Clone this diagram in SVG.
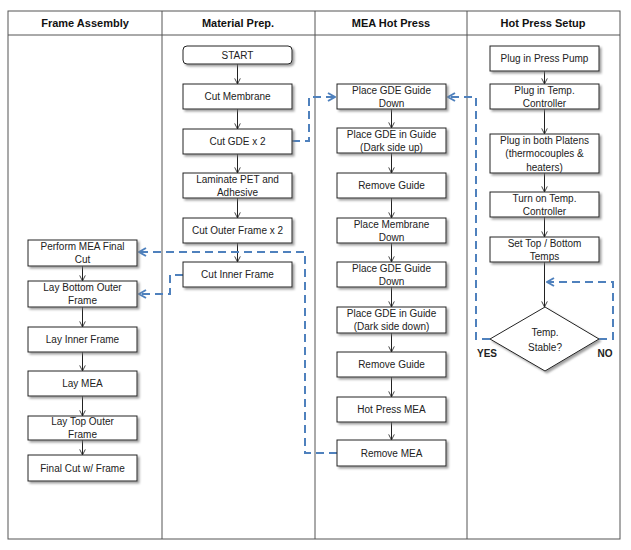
<svg xmlns="http://www.w3.org/2000/svg" width="631" height="550" viewBox="0 0 631 550">
<defs>
<filter id="sh" x="-10%" y="-20%" width="130%" height="160%">
<feDropShadow dx="2" dy="2" stdDeviation="1" flood-color="#777" flood-opacity="0.7"/>
</filter>
<marker id="ah" viewBox="0 0 10 10" refX="9" refY="5" markerWidth="7" markerHeight="7" orient="auto" markerUnits="userSpaceOnUse">
<path d="M1,1 L9,5 L1,9" fill="none" stroke="#222" stroke-width="1.2"/>
</marker>
<marker id="bh" viewBox="0 0 10 10" refX="9" refY="5" markerWidth="10" markerHeight="10" orient="auto" markerUnits="userSpaceOnUse">
<path d="M2,1 L9,5 L2,9" fill="none" stroke="#4F81BD" stroke-width="2"/>
</marker>
</defs>
<style>
.lane{fill:none;stroke:#555;stroke-width:1}
.hd{font-family:"Liberation Sans",Arial,sans-serif;font-size:11px;font-weight:bold;fill:#111;text-anchor:middle}
.bx{fill:#fff;stroke:#222;stroke-width:1;filter:url(#sh)}
.t{font-family:"Liberation Sans",Arial,sans-serif;font-size:10px;fill:#222;text-anchor:middle}
.sl{fill:none;stroke:#222;stroke-width:1;marker-end:url(#ah)}
.da{fill:none;stroke:#4F81BD;stroke-width:2;stroke-dasharray:8,5;marker-end:url(#bh)}
.lb{font-family:"Liberation Sans",Arial,sans-serif;font-size:10px;font-weight:bold;fill:#222;text-anchor:middle}
</style>
<rect x="0" y="0" width="631" height="550" fill="#fff"/>
<g id="lanes">
<rect class="lane" x="8" y="11" width="612" height="528"/>
<line class="lane" x1="8" y1="35" x2="620" y2="35"/>
<line class="lane" x1="162" y1="11" x2="162" y2="539"/>
<line class="lane" x1="315" y1="11" x2="315" y2="539"/>
<line class="lane" x1="467" y1="11" x2="467" y2="539"/>
<text class="hd" x="85" y="27">Frame Assembly</text>
<text class="hd" x="238" y="27">Material Prep.</text>
<text class="hd" x="391" y="27">MEA Hot Press</text>
<text class="hd" x="543" y="27">Hot Press Setup</text>
</g>
<g id="connectors">
<line class="sl" x1="237.5" y1="64" x2="237.5" y2="84"/>
<line class="sl" x1="237.5" y1="109" x2="237.5" y2="129"/>
<line class="sl" x1="237.5" y1="154" x2="237.5" y2="173"/>
<line class="sl" x1="237.5" y1="198" x2="237.5" y2="218"/>
<line class="sl" x1="237.5" y1="243" x2="237.5" y2="262"/>
<line class="sl" x1="82.5" y1="266" x2="82.5" y2="281"/>
<line class="sl" x1="82.5" y1="307" x2="82.5" y2="327"/>
<line class="sl" x1="82.5" y1="352" x2="82.5" y2="371"/>
<line class="sl" x1="82.5" y1="396" x2="82.5" y2="416"/>
<line class="sl" x1="82.5" y1="440" x2="82.5" y2="455"/>
<line class="sl" x1="391.5" y1="109" x2="391.5" y2="128"/>
<line class="sl" x1="391.5" y1="153" x2="391.5" y2="173"/>
<line class="sl" x1="391.5" y1="198" x2="391.5" y2="218"/>
<line class="sl" x1="391.5" y1="243" x2="391.5" y2="262"/>
<line class="sl" x1="391.5" y1="287" x2="391.5" y2="307"/>
<line class="sl" x1="391.5" y1="333" x2="391.5" y2="352"/>
<line class="sl" x1="391.5" y1="377" x2="391.5" y2="397"/>
<line class="sl" x1="391.5" y1="422" x2="391.5" y2="440"/>
<line class="sl" x1="544.5" y1="71" x2="544.5" y2="84"/>
<line class="sl" x1="544.5" y1="109" x2="544.5" y2="134"/>
<line class="sl" x1="544.5" y1="173" x2="544.5" y2="192"/>
<line class="sl" x1="544.5" y1="217" x2="544.5" y2="237"/>
<line class="sl" x1="544.5" y1="262" x2="544.5" y2="307"/>
<path class="da" d="M292,141 H309 V97 H335"/>
<path class="da" d="M490,339 H476 V97 H448"/>
<path class="da" d="M599,339 H613 V282 H547"/>
<path class="da" d="M337,453 H305 V252 H139"/>
<path class="da" d="M183,275 H170 V294 H139"/>
</g>
<g id="start"><rect class="bx" x="183" y="46" width="109" height="18" rx="4"/><text class="t" x="237.5" y="58.5">START</text></g>
<g id="cut-membrane"><rect class="bx" x="183" y="84" width="109" height="25"/><text class="t" x="237.5" y="100">Cut Membrane</text></g>
<g id="cut-gde"><rect class="bx" x="183" y="129" width="109" height="25"/><text class="t" x="237.5" y="145">Cut GDE x 2</text></g>
<g id="laminate"><rect class="bx" x="183" y="173" width="109" height="25"/><text class="t" x="237.5" y="182.5">Laminate PET and</text><text class="t" x="237.5" y="195.5">Adhesive</text></g>
<g id="cut-outer"><rect class="bx" x="183" y="218" width="109" height="25"/><text class="t" x="237.5" y="234">Cut Outer Frame x 2</text></g>
<g id="cut-inner"><rect class="bx" x="183" y="262" width="109" height="25"/><text class="t" x="237.5" y="278">Cut Inner Frame</text></g>

<g id="final-cut-mea"><rect class="bx" x="28" y="240" width="109" height="26"/><text class="t" x="82.5" y="250">Perform MEA Final</text><text class="t" x="82.5" y="263">Cut</text></g>
<g id="lay-bottom"><rect class="bx" x="28" y="281" width="109" height="26"/><text class="t" x="82.5" y="291">Lay Bottom Outer</text><text class="t" x="82.5" y="304">Frame</text></g>
<g id="lay-inner"><rect class="bx" x="28" y="327" width="109" height="25"/><text class="t" x="82.5" y="343">Lay Inner Frame</text></g>
<g id="lay-mea"><rect class="bx" x="28" y="371" width="109" height="25"/><text class="t" x="82.5" y="387">Lay MEA</text></g>
<g id="lay-top"><rect class="bx" x="28" y="416" width="109" height="24"/><text class="t" x="82.5" y="425">Lay Top Outer</text><text class="t" x="82.5" y="438">Frame</text></g>
<g id="final-cut-frame"><rect class="bx" x="28" y="455" width="109" height="26"/><text class="t" x="82.5" y="471.5">Final Cut w/ Frame</text></g>

<g id="place-guide-1"><rect class="bx" x="337" y="84" width="109" height="25"/><text class="t" x="391.5" y="93.5">Place GDE Guide</text><text class="t" x="391.5" y="106.5">Down</text></g>
<g id="place-gde-up"><rect class="bx" x="337" y="128" width="109" height="25"/><text class="t" x="391.5" y="137.5">Place GDE in Guide</text><text class="t" x="391.5" y="150.5">(Dark side up)</text></g>
<g id="remove-guide-1"><rect class="bx" x="337" y="173" width="109" height="25"/><text class="t" x="391.5" y="189">Remove Guide</text></g>
<g id="place-membrane"><rect class="bx" x="337" y="218" width="109" height="25"/><text class="t" x="391.5" y="227.5">Place Membrane</text><text class="t" x="391.5" y="240.5">Down</text></g>
<g id="place-guide-2"><rect class="bx" x="337" y="262" width="109" height="25"/><text class="t" x="391.5" y="271.5">Place GDE Guide</text><text class="t" x="391.5" y="284.5">Down</text></g>
<g id="place-gde-down"><rect class="bx" x="337" y="307" width="109" height="26"/><text class="t" x="391.5" y="317">Place GDE in Guide</text><text class="t" x="391.5" y="330">(Dark side down)</text></g>
<g id="remove-guide-2"><rect class="bx" x="337" y="352" width="109" height="25"/><text class="t" x="391.5" y="368">Remove Guide</text></g>
<g id="hot-press"><rect class="bx" x="337" y="397" width="109" height="25"/><text class="t" x="391.5" y="413">Hot Press MEA</text></g>
<g id="remove-mea"><rect class="bx" x="337" y="440" width="109" height="26"/><text class="t" x="391.5" y="456.5">Remove MEA</text></g>

<g id="plug-pump"><rect class="bx" x="490" y="46" width="109" height="25"/><text class="t" x="544.5" y="62">Plug in Press Pump</text></g>
<g id="plug-temp"><rect class="bx" x="490" y="84" width="109" height="25"/><text class="t" x="544.5" y="93.5">Plug in Temp.</text><text class="t" x="544.5" y="106.5">Controller</text></g>
<g id="plug-platens"><rect class="bx" x="490" y="134" width="109" height="39"/><text class="t" x="544.5" y="143.5">Plug in both Platens</text><text class="t" x="544.5" y="157">(thermocouples &amp;</text><text class="t" x="544.5" y="170.5">heaters)</text></g>
<g id="turn-on"><rect class="bx" x="490" y="192" width="109" height="25"/><text class="t" x="544.5" y="201.5">Turn on Temp.</text><text class="t" x="544.5" y="214.5">Controller</text></g>
<g id="set-temps"><rect class="bx" x="490" y="237" width="109" height="25"/><text class="t" x="544.5" y="246.5">Set Top / Bottom</text><text class="t" x="544.5" y="259.5">Temps</text></g>
<g id="temp-stable"><polygon class="bx" points="545,307 599,339 545,371 490,339"/><text class="t" x="545" y="335.5">Temp.</text><text class="t" x="545" y="350.5">Stable?</text></g>
<g id="labels"><text class="lb" x="487" y="357">YES</text><text class="lb" x="605" y="357">NO</text></g>
</svg>
